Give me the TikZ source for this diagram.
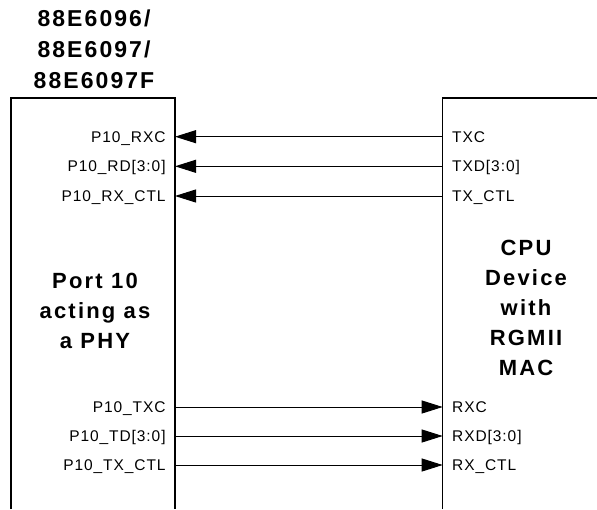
\documentclass[tikz,border=0pt]{standalone}
\usepackage{fontspec}
\setmainfont{Liberation Sans}
\newfontfamily\titlesans[LetterSpace=9]{Liberation Sans}
\newfontfamily\bodysans[LetterSpace=10]{Liberation Sans}
\newfontfamily\pinsans[LetterSpace=6]{Liberation Sans}
\usetikzlibrary{arrows.meta}
\tikzset{
  boxline/.style={line width=1.1pt},
  sig/.style={line width=1pt, -{Triangle[length=21pt,width=13pt]}},
  pinlabel/.style={font=\pinsans\fontsize{15.5}{18}\selectfont, inner sep=0pt},
  pinL/.style={pinlabel, anchor=base east},
  pinR/.style={pinlabel, anchor=base west},
  titletext/.style={font=\titlesans\bfseries\fontsize{23}{30.6}\selectfont, align=center, inner sep=0pt, anchor=base},
  bodytext/.style={font=\bodysans\bfseries\fontsize{22}{29.8}\selectfont, align=center, inner sep=0pt, anchor=base},
}
\begin{document}
\begin{tikzpicture}[x=1pt,y=-1pt]
\useasboundingbox (0,0) rectangle (597,509);
% boxes
\draw[boxline] (11,509) -- (11,98) -- (175,98) -- (175,509);
\draw[boxline] (442.7,509) -- (442.7,98) -- (597,98);
% title and box texts (anchor = baseline of last line)
\node[titletext] (title) at (94,88) {88E6096/\\88E6097/\\88E6097F};
\node[bodytext] (phy) at (95,348) {Port 10\\acting as\\a PHY};
\node[bodytext] (cpu) at (526,375) {CPU\\Device\\with\\RGMII\\MAC};
% pin coordinates
\foreach \n/\y in {1/136.7,2/166.3,3/196,4/407,5/436,6/465}{
  \coordinate (L\n) at (175,\y);
  \coordinate (R\n) at (442.7,\y);
}
% left pin labels
\node[pinL] (p10rxc) at (165.8,142.3) {P10\_RXC};
\node[pinL] (p10rd) at (165.8,171.9) {P10\_RD[3:0]};
\node[pinL] (p10rxctl) at (165.8,201.6) {P10\_RX\_CTL};
\node[pinL] (p10txc) at (165.8,412.6) {P10\_TXC};
\node[pinL] (p10td) at (165.8,441.6) {P10\_TD[3:0]};
\node[pinL] (p10txctl) at (165.8,470.6) {P10\_TX\_CTL};
% right pin labels
\node[pinR] (txc) at (452,142.3) {TXC};
\node[pinR] (txd) at (452,171.9) {TXD[3:0]};
\node[pinR] (txctl) at (452,201.6) {TX\_CTL};
\node[pinR] (rxc) at (452,412.6) {RXC};
\node[pinR] (rxd) at (452,441.6) {RXD[3:0]};
\node[pinR] (rxctl) at (452,470.6) {RX\_CTL};
% connectors
\draw[sig] (R1) -- (L1);
\draw[sig] (R2) -- (L2);
\draw[sig] (R3) -- (L3);
\draw[sig] (L4) -- (R4);
\draw[sig] (L5) -- (R5);
\draw[sig] (L6) -- (R6);
\end{tikzpicture}
\end{document}
